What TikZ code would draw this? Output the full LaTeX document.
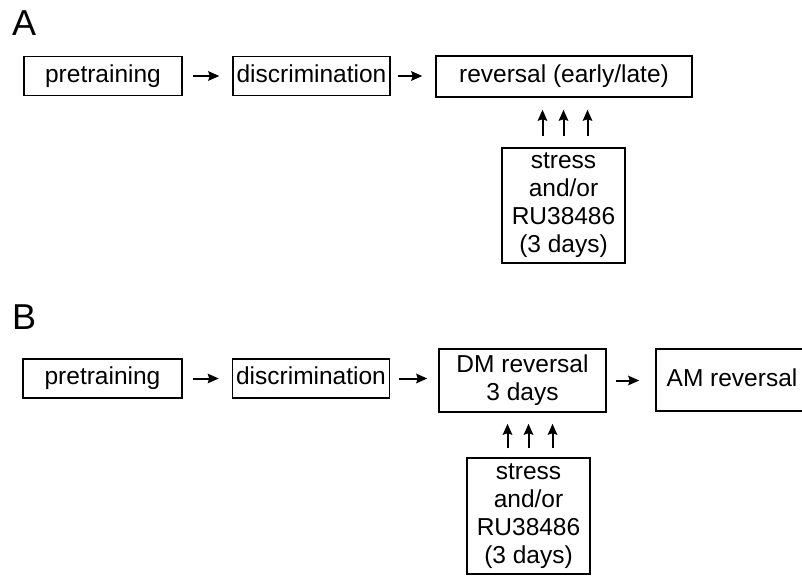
\documentclass[tikz,border=0pt]{standalone}
\usepackage{fontspec}
\setmainfont{Liberation Sans}
\usetikzlibrary{arrows.meta}
\tikzset{
	phase/.style={draw, line width=1.5pt, inner sep=0pt, align=center, text depth=5.5pt, font=\fontsize{24.5}{28}\selectfont},
	flow/.style={-{Stealth[length=11pt,width=9.5pt,inset=1.5pt]}, line width=2pt},
	panel/.style={anchor=north west, inner sep=0pt, font=\fontsize{36}{36}\selectfont}
}

\begin{document}
\begin{tikzpicture}[x=1pt,y=-1pt]
		\useasboundingbox (0,0) rectangle (802,575);

		\node[panel] (labA) at (12,11) {A};
		\node[phase, minimum width=158pt, minimum height=39pt] (pretA) at (103,76) {pretraining};
		\node[phase, minimum width=157pt, minimum height=39pt] (discA) at (311.5,76) {discrimination};
		\node[phase, minimum width=256pt, minimum height=41pt] (revA) at (564,76.5) {reversal (early/late)};
		\node[phase, minimum width=123pt, minimum height=115pt] (stressA) at (563.5,205.5) {stress\\and/or\\RU38486\\(3 days)};

		\draw[flow, shorten <=10pt, shorten >=13pt] (pretA.east) -- (pretA.east -| discA.west);
		\draw[flow, shorten <=7pt, shorten >=13pt] (discA.east) -- (discA.east -| revA.west);
		\foreach \dx in {-21,0,24}
			\draw[flow, shorten <=11pt, shorten >=12pt] ([xshift=\dx pt]stressA.north) -- ([xshift=\dx pt]stressA.north |- revA.south);

		\node[panel] (labB) at (12,305) {B};
		\node[phase, minimum width=159pt, minimum height=39pt] (pretB) at (102.5,378.5) {pretraining};
		\node[phase, minimum width=157pt, minimum height=39pt] (discB) at (311,378.5) {discrimination};
		\node[phase, minimum width=167pt, minimum height=63pt] (dmB) at (522.5,380.5) {DM reversal\\3 days};
		\node[phase, minimum width=152pt, minimum height=62pt] (amB) at (732,380) {AM reversal};
		\node[phase, minimum width=123pt, minimum height=116pt] (stressB) at (528.5,516) {stress\\and/or\\RU38486\\(3 days)};

		\draw[flow, shorten <=10pt, shorten >=13pt] (pretB.east) -- (pretB.east -| discB.west);
		\draw[flow, shorten <=9pt, shorten >=11pt] (discB.east) -- (discB.east -| dmB.west);
		\draw[flow, shorten <=9pt, shorten >=16pt] (dmB.east) -- (dmB.east -| amB.west);
		\foreach \dx in {-21,0,24}
			\draw[flow, shorten <=9pt, shorten >=11pt] ([xshift=\dx pt]stressB.north) -- ([xshift=\dx pt]stressB.north |- dmB.south);
	\end{tikzpicture}
\end{document}
